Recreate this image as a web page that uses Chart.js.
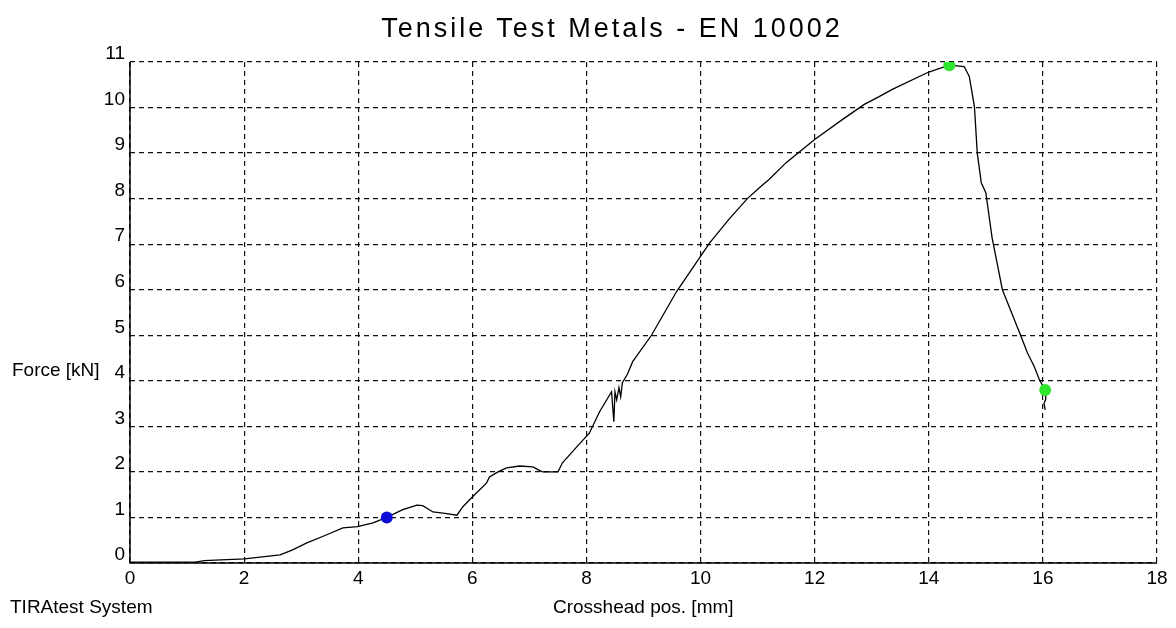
<!DOCTYPE html>
<html>
<head>
<meta charset="utf-8">
<script src="https://cdn.jsdelivr.net/npm/chart.js@4.4.1/dist/chart.umd.min.js"></script>
<style>
  html, body { margin: 0; padding: 0; background: #fff; }
  #wrap { position: relative; width: 1176px; height: 628px; overflow: hidden; }
  canvas { position: absolute; left: 0; top: 0; }
  .t { position: absolute; color: #000; white-space: nowrap; font-family: "Liberation Sans", Arial, sans-serif; }
  #title { left: 0; width: 1224px; top: 13px; text-align: center; font-size: 27px; letter-spacing: 3px; }
  #ylab { left: 12px; top: 359px; font-size: 19px; }
  #foot1 { left: 10px; top: 596px; font-size: 19px; }
  #xlab { left: 553px; top: 596px; font-size: 19px; }
</style>
</head>
<body>
<div id="wrap">
  <canvas id="c" width="1176" height="628"></canvas>
  <div class="t" id="title">Tensile Test Metals - EN 10002</div>
  <div class="t" id="ylab">Force [kN]</div>
  <div class="t" id="foot1">TIRAtest System</div>
  <div class="t" id="xlab">Crosshead pos. [mm]</div>
</div>
<script>
// Crosshead position [mm]
const posMm = [0, 1.15, 1.3, 1.6, 2.01, 2.28, 2.63, 2.85, 3.1, 3.45, 3.73, 3.99, 4.26, 4.5, 4.78, 5.03, 5.13, 5.31, 5.52, 5.73, 5.83, 6.0, 6.25,
  6.3, 6.45, 6.6, 6.83, 7.06, 7.15, 7.23, 7.5, 7.58, 7.83, 8.05, 8.23, 8.44, 8.48, 8.5, 8.53, 8.57, 8.6, 8.63, 8.72, 8.81,
  9.14, 9.58, 10.02, 10.16, 10.5, 10.82, 11.03, 11.2, 11.5, 12.0, 12.49, 12.87, 13.13, 13.36, 14.0, 14.36, 14.62, 14.71,
  14.8, 14.85, 14.92, 15.0, 15.11, 15.29, 15.45, 15.64, 15.73, 15.85, 15.94, 16.04, 16.05, 16.02, 16.04];
// Force [kN]
const forceKn = [0.02, 0.02, 0.05, 0.07, 0.09, 0.13, 0.18, 0.29, 0.44, 0.62, 0.77, 0.8, 0.88, 1.0, 1.17, 1.27, 1.26, 1.12, 1.09, 1.05, 1.23, 1.45, 1.76,
  1.89, 2.0, 2.09, 2.13, 2.11, 2.05, 2.0, 2.0, 2.2, 2.55, 2.85, 3.32, 3.76, 3.1, 3.76, 3.58, 3.85, 3.65, 3.96, 4.15, 4.42,
  5.0, 5.96, 6.77, 7.03, 7.55, 8.0, 8.24, 8.42, 8.79, 9.3, 9.74, 10.07, 10.24, 10.4, 10.78, 10.93, 10.9, 10.68,
  10.02, 9.0, 8.35, 8.13, 7.14, 6.0, 5.5, 4.9, 4.61, 4.31, 4.02, 3.8, 3.6, 3.5, 3.36];
// Marked points
const markX = [4.5, 14.36, 16.04];
const markY = [1.0, 10.93, 3.8];
const markColors = ['#0c0cd6', '#2ee62e', '#2ee62e'];
// Ticks
const xTicks = [0, 2, 4, 6, 8, 10, 12, 14, 16, 18];
const yTicks = [0, 1, 2, 3, 4, 5, 6, 7, 8, 9, 10, 11];

const curve = posMm.map((x, i) => ({ x: x, y: forceKn[i] }));
const marks = markX.map((x, i) => ({ x: x, y: markY[i] }));

const tickFont = { family: "'Liberation Sans Narrow', 'Liberation Sans', Arial, sans-serif", size: 19 };

// Solid axis lines (left and bottom edges of the plot area)
const axisLines = {
  id: 'axisLines',
  beforeDatasetsDraw(chart) {
    const { ctx, chartArea: a } = chart;
    ctx.save();
    ctx.setLineDash([]);
    ctx.strokeStyle = '#000';
    ctx.lineWidth = 1.5;
    ctx.beginPath();
    ctx.moveTo(a.left, a.top);
    ctx.lineTo(a.left, a.bottom);
    ctx.lineTo(a.right, a.bottom);
    ctx.stroke();
    ctx.restore();
  }
};

new Chart(document.getElementById('c'), {
  type: 'scatter',
  data: {
    datasets: [
      {
        data: marks,
        showLine: false,
        pointRadius: 6,
        pointHoverRadius: 6,
        pointBackgroundColor: markColors,
        pointBorderColor: markColors,
        pointBorderWidth: 0,
        order: 0
      },
      {
        data: curve,
        showLine: true,
        borderColor: '#000',
        borderWidth: 1.3,
        pointRadius: 0,
        tension: 0,
        order: 1
      }
    ]
  },
  plugins: [axisLines],
  options: {
    responsive: false,
    animation: false,
    events: [],
    layout: { padding: { top: 62, right: 19, left: 0, bottom: 0 } },
    plugins: { legend: { display: false }, tooltip: { enabled: false }, title: { display: false } },
    scales: {
      x: {
        type: 'linear',
        min: 0, max: 18,
        afterFit: s => { s.height = 65; },
        afterBuildTicks: s => { s.ticks = xTicks.map(v => ({ value: v })); },
        ticks: { color: '#000', font: tickFont, padding: 4, maxRotation: 0, autoSkip: false },
        grid: { color: '#111', lineWidth: 1.2, drawTicks: false },
        border: { display: false, dash: [5, 4] }
      },
      y: {
        type: 'linear',
        min: 0, max: 11,
        afterFit: s => { s.width = 130; },
        afterBuildTicks: s => { s.ticks = yTicks.map(v => ({ value: v })); },
        ticks: { color: '#000', font: tickFont, padding: 5, labelOffset: -8, autoSkip: false },
        grid: { color: '#111', lineWidth: 1.2, drawTicks: false },
        border: { display: false, dash: [5, 4] }
      }
    }
  }
});
</script>
</body>
</html>
